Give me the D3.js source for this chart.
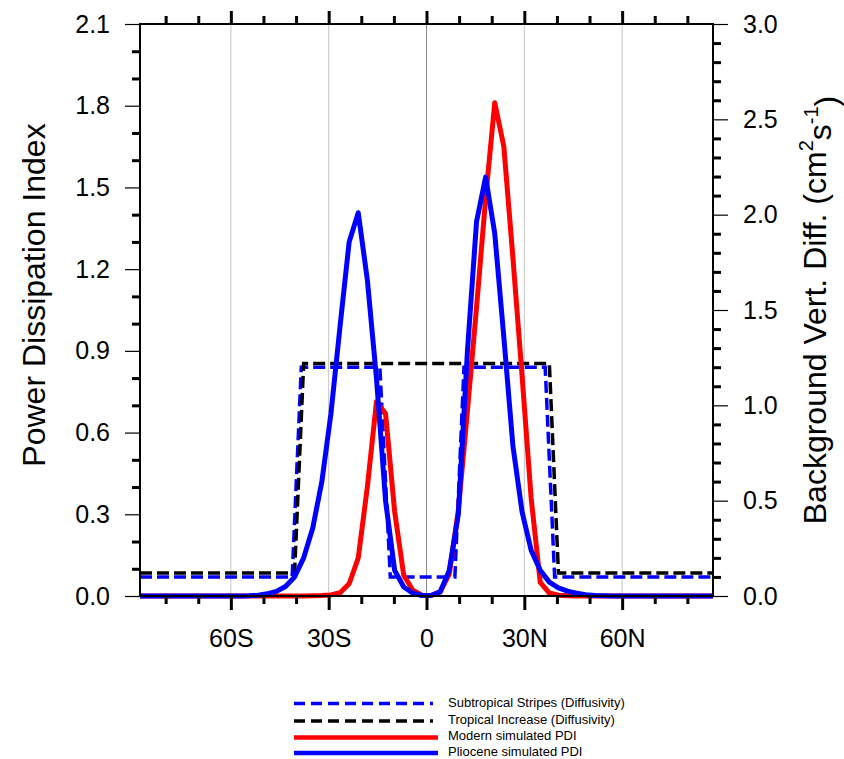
<!DOCTYPE html>
<html>
<head>
<meta charset="utf-8">
<script src="https://cdn.jsdelivr.net/npm/d3@7"></script>
<style>
  html, body { margin: 0; padding: 0; background: #fff; }
  svg { display: block; }
  text { font-family: "Liberation Sans", Arial, Helvetica, sans-serif; fill: #000; }
</style>
</head>
<body>
<svg id="chart" width="844" height="759"></svg>
<script>
// ---------- data ----------
// T42 Gaussian latitudes (south to north)
const lats = [-87.864, -85.097, -82.313, -79.526, -76.737, -73.948, -71.158, -68.368,
  -65.578, -62.787, -59.997, -57.207, -54.416, -51.626, -48.835, -46.045,
  -43.254, -40.464, -37.673, -34.883, -32.092, -29.301, -26.511, -23.720,
  -20.930, -18.139, -15.348, -12.558, -9.767, -6.977, -4.186, -1.395,
  1.395, 4.186, 6.977, 9.767, 12.558, 15.348, 18.139, 20.930,
  23.720, 26.511, 29.301, 32.092, 34.883, 37.673, 40.464, 43.254,
  46.045, 48.835, 51.626, 54.416, 57.207, 59.997, 62.787, 65.578,
  68.368, 71.158, 73.948, 76.737, 79.526, 82.313, 85.097, 87.864];

// Modern simulated PDI (left axis)
const modernPDI = [0, 0, 0, 0, 0, 0, 0, 0,
  0, 0, 0, 0, 0, 0, 0, 0,
  0, 0, 0, 0.001, 0.002, 0.004, 0.012, 0.045,
  0.14, 0.40, 0.713, 0.67, 0.31, 0.076, 0.021, 0.003,
  0.002, 0.015, 0.08, 0.315, 0.68, 1.06, 1.46, 1.811,
  1.65, 1.24, 0.81, 0.36, 0.05, 0.011, 0.003, 0.001,
  0, 0, 0, 0, 0, 0, 0, 0,
  0, 0, 0, 0, 0, 0, 0, 0];

// Pliocene simulated PDI (left axis)
const pliocenePDI = [0, 0, 0, 0, 0, 0, 0, 0,
  0, 0, 0, 0, 0.001, 0.003, 0.008, 0.017,
  0.035, 0.07, 0.14, 0.25, 0.42, 0.67, 0.99, 1.30,
  1.407, 1.16, 0.80, 0.35, 0.094, 0.033, 0.01, 0.002,
  0.002, 0.015, 0.094, 0.30, 0.90, 1.374, 1.538, 1.331,
  0.95, 0.55, 0.31, 0.168, 0.094, 0.051, 0.03, 0.018,
  0.01, 0.005, 0.002, 0.001, 0, 0, 0, 0,
  0, 0, 0, 0, 0, 0, 0, 0];

// Subtropical Stripes diffusivity (right axis)
const stripesLat  = [-87.864, -41.2, -38.4, -14.3, -11.1, 8.7, 11.5, 36.4, 39.3, 87.864];
const stripesDiff = [0.1, 0.1, 1.2, 1.2, 0.1, 0.1, 1.2, 1.2, 0.1, 0.1];

// Tropical Increase diffusivity (right axis)
const tropicalLat  = [-87.864, -40.464, -37.673, 37.673, 40.464, 87.864];
const tropicalDiff = [0.12, 0.12, 1.22, 1.22, 0.12, 0.12];

const xMajorTicks = [-60, -30, 0, 30, 60];
const xTickLabels = ["60S", "30S", "0", "30N", "60N"];
const xMinorTicks = [-80, -70, -50, -40, -20, -10, 10, 20, 40, 50, 70, 80];
const yLeftMajor = [0, 0.3, 0.6, 0.9, 1.2, 1.5, 1.8, 2.1];
const yRightMajor = [0, 0.5, 1.0, 1.5, 2.0, 2.5, 3.0];

const legendLabels = ["Subtropical Stripes (Diffusivity)", "Tropical Increase (Diffusivity)",
  "Modern simulated PDI", "Pliocene simulated PDI"];

// ---------- layout ----------
const L = 140, R = 713, T = 24, B = 596;
const svg = d3.select("#chart");

const x = d3.scaleLinear().domain([-87.864, 87.864]).range([L, R]);
const yL = d3.scaleLinear().domain([0, 2.1]).range([B, T]);
const yR = d3.scaleLinear().domain([0, 3.0]).range([B, T]);

// gridlines
svg.append("g").selectAll("line").data(xMajorTicks).join("line")
  .attr("x1", d => x(d)).attr("x2", d => x(d))
  .attr("y1", T).attr("y2", B)
  .attr("stroke", d => d === 0 ? "#8c8c8c" : "#c4c4c4")
  .attr("stroke-width", 1);

// curves
const lineR = d3.line().x(d => x(d[0])).y(d => yR(d[1]));
const lineL = d3.line().x(d => x(d[0])).y(d => yL(d[1]));

const plot = svg.append("g");
plot.append("path").datum(d3.zip(stripesLat, stripesDiff)).attr("d", lineR)
  .attr("fill", "none").attr("stroke", "#0000ff").attr("stroke-width", 3.5)
  .attr("stroke-dasharray", "12,5");
plot.append("path").datum(d3.zip(tropicalLat, tropicalDiff)).attr("d", lineR)
  .attr("fill", "none").attr("stroke", "#000").attr("stroke-width", 3.5)
  .attr("stroke-dasharray", "12,5");
plot.append("path").datum(d3.zip(lats, modernPDI)).attr("d", lineL)
  .attr("fill", "none").attr("stroke", "#ff0000").attr("stroke-width", 5)
  .attr("stroke-linejoin", "round");
plot.append("path").datum(d3.zip(lats, pliocenePDI)).attr("d", lineL)
  .attr("fill", "none").attr("stroke", "#0000ff").attr("stroke-width", 5)
  .attr("stroke-linejoin", "round");

// frame
svg.append("rect").attr("x", L).attr("y", T).attr("width", R - L).attr("height", B - T)
  .attr("fill", "none").attr("stroke", "#000").attr("stroke-width", 2);

// axes helper
function styleAxis(g, w) {
  g.select(".domain").remove();
  g.selectAll(".tick line").attr("stroke", "#000").attr("stroke-width", w);
  g.selectAll("text").style("font-size", "25px").attr("fill", "#000");
}

// bottom
svg.append("g").attr("transform", `translate(0,${B})`)
  .call(d3.axisBottom(x).tickValues(xMinorTicks).tickSize(8).tickFormat(""))
  .call(g => styleAxis(g, 3));
svg.append("g").attr("transform", `translate(0,${B})`)
  .call(d3.axisBottom(x).tickValues(xMajorTicks).tickSize(14).tickPadding(19)
    .tickFormat((d, i) => xTickLabels[i]))
  .call(g => styleAxis(g, 3));
// top
svg.append("g").attr("transform", `translate(0,${T})`)
  .call(d3.axisTop(x).tickValues(xMinorTicks).tickSize(8).tickFormat(""))
  .call(g => styleAxis(g, 3));
svg.append("g").attr("transform", `translate(0,${T})`)
  .call(d3.axisTop(x).tickValues(xMajorTicks).tickSize(13).tickFormat(""))
  .call(g => styleAxis(g, 3));

// left
const yLMinor = d3.range(0, 22).map(i => +(i * 0.1).toFixed(1)).filter(v => yLeftMajor.indexOf(v) < 0);
svg.append("g").attr("transform", `translate(${L},0)`)
  .call(d3.axisLeft(yL).tickValues(yLMinor).tickSize(8).tickFormat(""))
  .call(g => styleAxis(g, 3));
svg.append("g").attr("transform", `translate(${L},0)`)
  .call(d3.axisLeft(yL).tickValues(yLeftMajor).tickSize(15).tickPadding(15).tickFormat(d3.format(".1f")))
  .call(g => styleAxis(g, 1.2));

// right
const yRMinor = d3.range(0, 31).map(i => +(i * 0.1).toFixed(1)).filter(v => yRightMajor.indexOf(v) < 0);
svg.append("g").attr("transform", `translate(${R},0)`)
  .call(d3.axisRight(yR).tickValues(yRMinor).tickSize(8).tickFormat(""))
  .call(g => styleAxis(g, 3));
svg.append("g").attr("transform", `translate(${R},0)`)
  .call(d3.axisRight(yR).tickValues(yRightMajor).tickSize(15).tickPadding(15).tickFormat(d3.format(".1f")))
  .call(g => styleAxis(g, 1.2));

// titles
svg.append("text").attr("transform", "translate(34,295) rotate(-90)")
  .attr("text-anchor", "middle").attr("dominant-baseline", "central")
  .style("font-size", "32px").text("Power Dissipation Index");

const rt = svg.append("text").attr("transform", "translate(815,310) rotate(-90)")
  .attr("text-anchor", "middle").attr("dominant-baseline", "central")
  .style("font-size", "32px");
rt.append("tspan").text("Background Vert. Diff. (cm");
rt.append("tspan").attr("dy", "-0.45em").style("font-size", "20px").text("2");
rt.append("tspan").attr("dy", "0.45em").text("s");
rt.append("tspan").attr("dy", "-0.45em").style("font-size", "20px").text("-1");
rt.append("tspan").attr("dy", "0.45em").text(")");

// legend
const legendLineY = [703.5, 721, 737.5, 753];
const legendTextY = [702.5, 719.5, 735.5, 751];
const legendStyle = [
  { c: "#0000ff", w: 3.5, dash: "11,6", x2: 433 },
  { c: "#000", w: 3.5, dash: "11,6", x2: 433 },
  { c: "#ff0000", w: 4.5, dash: null, x2: 438 },
  { c: "#0000ff", w: 4.5, dash: null, x2: 438 }
];
const lg = svg.append("g");
legendLabels.forEach((lab, i) => {
  const s = legendStyle[i];
  lg.append("line").attr("x1", 294).attr("x2", s.x2).attr("y1", legendLineY[i]).attr("y2", legendLineY[i])
    .attr("stroke", s.c).attr("stroke-width", s.w).attr("stroke-dasharray", s.dash);
  lg.append("text").attr("x", 448).attr("y", legendTextY[i]).attr("dominant-baseline", "central")
    .style("font-size", "13px").text(lab);
});
</script>
</body>
</html>
